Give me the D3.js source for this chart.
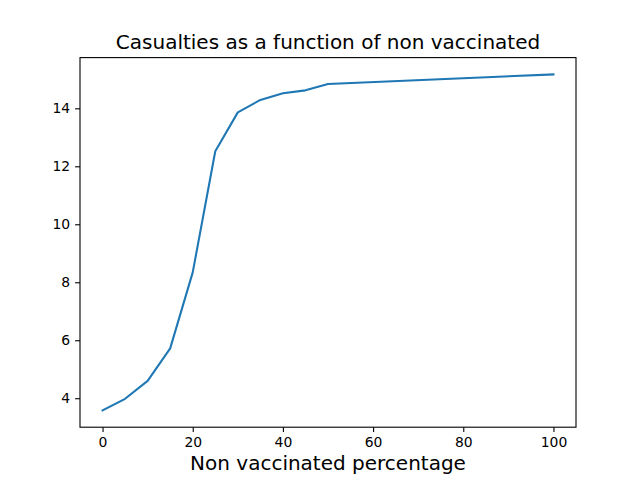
<!DOCTYPE html>
<html>
<head>
<meta charset="utf-8">
<script src="https://cdn.jsdelivr.net/npm/d3@7"></script>
<style>
  body { margin: 0; background: #fff; }
  text { font-family: "DejaVu Sans", sans-serif; fill: #000; }
</style>
</head>
<body>
<div id="chart"></div>
<script>
// data
var percentages = [0, 5, 10, 15, 20, 25, 30, 35, 40, 45, 50, 100];
var casualties = [3.58, 3.98, 4.6, 5.72, 8.34, 12.52, 13.86, 14.29, 14.52, 14.62, 14.84, 15.17];
var xTicks = [0, 20, 40, 60, 80, 100];
var yTicks = [4, 6, 8, 10, 12, 14];

var svgWidth = 640;
var svgHeight = 480;

var margin = { top: 57.6, right: 64, bottom: 52.8, left: 80 };
var width = svgWidth - margin.left - margin.right;
var height = svgHeight - margin.top - margin.bottom;

var svg = d3.select("#chart")
  .append("svg")
  .attr("width", svgWidth)
  .attr("height", svgHeight);

var chartGroup = svg.append("g")
  .attr("transform", `translate(${margin.left}, ${margin.top})`);

// matplotlib style 5% margins
var xMin = d3.min(percentages), xMax = d3.max(percentages);
var xPad = (xMax - xMin) * 0.05;
var xScale = d3.scaleLinear()
  .domain([xMin - xPad, xMax + xPad])
  .range([0, width]);

var yMin = d3.min(casualties), yMax = d3.max(casualties);
var yPad = (yMax - yMin) * 0.05;
var yScale = d3.scaleLinear()
  .domain([yMin - yPad, yMax + yPad])
  .range([height, 0]);

var bottomAxis = d3.axisBottom(xScale).tickValues(xTicks).tickSize(4.9).tickPadding(4.9).tickSizeOuter(0);
var leftAxis = d3.axisLeft(yScale).tickValues(yTicks).tickSize(4.9).tickPadding(4.9).tickSizeOuter(0);

var xAxis = chartGroup.append("g")
  .attr("transform", `translate(0, ${height})`)
  .call(bottomAxis);

var yAxis = chartGroup.append("g")
  .call(leftAxis);

[xAxis, yAxis].forEach(function(ax) {
  ax.select(".domain").remove();
  ax.selectAll("line").attr("stroke", "#000").attr("stroke-width", 1.1);
  ax.selectAll("text")
    .attr("font-size", "13.9px")
    .attr("font-family", "DejaVu Sans, sans-serif")
    .attr("fill", "#000");
});

// line
var line = d3.line()
  .x(function(d, i) { return xScale(percentages[i]); })
  .y(function(d) { return yScale(d); });

chartGroup.append("path")
  .datum(casualties)
  .attr("fill", "none")
  .attr("stroke", "#1f77b4")
  .attr("stroke-width", 2.08)
  .attr("stroke-linejoin", "round")
  .attr("stroke-linecap", "square")
  .attr("d", line);

// frame
chartGroup.append("rect")
  .attr("x", 0)
  .attr("y", 0)
  .attr("width", width)
  .attr("height", height)
  .attr("fill", "none")
  .attr("stroke", "#000")
  .attr("stroke-width", 1.1);

// title
chartGroup.append("text")
  .attr("x", width / 2)
  .attr("y", -8.3)
  .attr("text-anchor", "middle")
  .attr("font-size", "20px")
  .text("Casualties as a function of non vaccinated");

// x label
chartGroup.append("text")
  .attr("x", width / 2)
  .attr("y", height + 43)
  .attr("text-anchor", "middle")
  .attr("font-size", "20px")
  .text("Non vaccinated percentage");
</script>
</body>
</html>
